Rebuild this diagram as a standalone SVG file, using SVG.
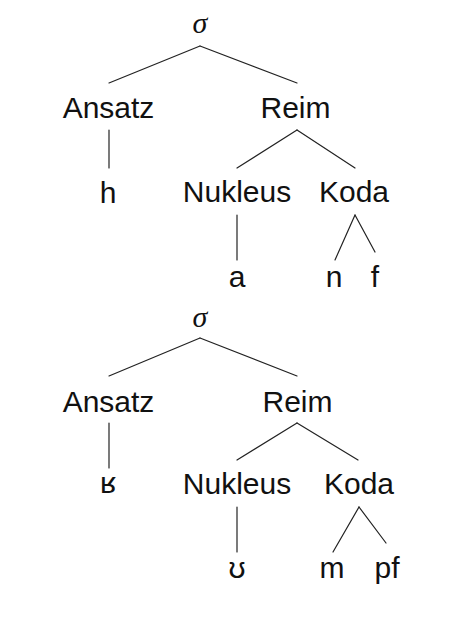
<svg xmlns="http://www.w3.org/2000/svg" width="472" height="618" viewBox="0 0 472 618">
<style>
.t{font-family:"Liberation Sans","DejaVu Sans",sans-serif;font-size:30px;fill:#111;text-anchor:middle}
.s{font-family:"Liberation Serif","DejaVu Serif",serif;font-style:italic;font-size:30px;fill:#111;text-anchor:middle}
.e line{stroke:#222;stroke-width:1.2;stroke-linecap:round}
</style>
<rect width="472" height="618" fill="#fff"/>
<g class="e" id="connectors">
<line x1="200" y1="46" x2="109" y2="83"/>
<line x1="200" y1="46" x2="297" y2="83"/>
<line x1="109" y1="130" x2="109" y2="168"/>
<line x1="297" y1="130" x2="237" y2="168"/>
<line x1="297" y1="130" x2="355" y2="168"/>
<line x1="237" y1="215" x2="237" y2="260"/>
<line x1="355" y1="215" x2="335" y2="260"/>
<line x1="355" y1="215" x2="375" y2="252"/>
<line x1="200" y1="338" x2="109" y2="376"/>
<line x1="200" y1="338" x2="297" y2="376"/>
<line x1="109" y1="423" x2="109" y2="468"/>
<line x1="297" y1="423" x2="237" y2="460"/>
<line x1="297" y1="423" x2="358" y2="460"/>
<line x1="237" y1="507" x2="237" y2="552"/>
<line x1="359" y1="507" x2="333" y2="552"/>
<line x1="359" y1="507" x2="386" y2="543"/>
</g>
<g id="sigma1"><text class="s" x="200" y="33">σ</text></g>
<g id="ansatz1"><text class="t" x="108.5" y="118">Ansatz</text></g>
<g id="reim1"><text class="t" x="295.5" y="118">Reim</text></g>
<g id="h1"><text class="t" x="108" y="203">h</text></g>
<g id="nukleus1"><text class="t" x="237" y="202">Nukleus</text></g>
<g id="koda1"><text class="t" x="354" y="202">Koda</text></g>
<g id="a1"><text class="t" x="237" y="287">a</text></g>
<g id="n1"><text class="t" x="334" y="287">n</text></g>
<g id="f1"><text class="t" x="375" y="287">f</text></g>
<g id="sigma2"><text class="s" x="200" y="327">σ</text></g>
<g id="ansatz2"><text class="t" x="108.5" y="412">Ansatz</text></g>
<g id="reim2"><text class="t" x="297.5" y="412">Reim</text></g>
<g id="r2"><text class="t" x="108" y="493">ʁ</text></g>
<g id="nukleus2"><text class="t" x="237" y="494">Nukleus</text></g>
<g id="koda2"><text class="t" x="359" y="494">Koda</text></g>
<g id="u2"><text class="t" x="237" y="578">ʊ</text></g>
<g id="m2"><text class="t" x="332" y="578">m</text></g>
<g id="pf2"><text class="t" x="387" y="578">pf</text></g>
</svg>
